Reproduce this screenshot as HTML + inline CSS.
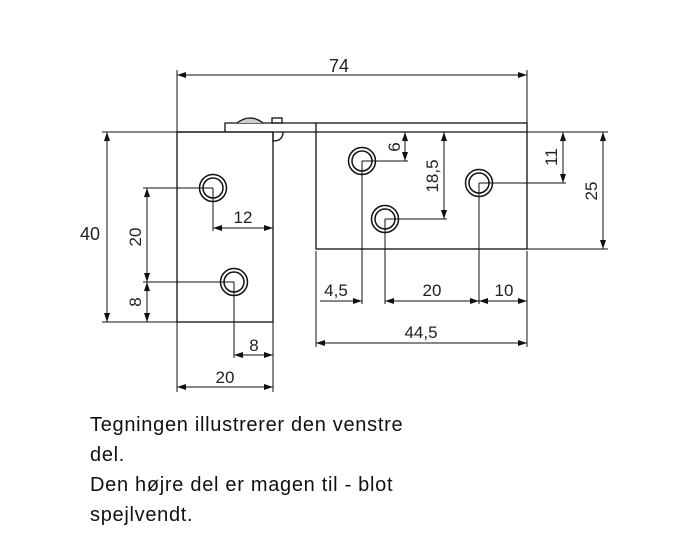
<!DOCTYPE html>
<html><head><style>
body{margin:0;background:#fff;width:686px;height:559px;overflow:hidden;}
svg{position:absolute;left:0;top:0}
.t{font-family:"Liberation Sans",sans-serif;font-size:17px;fill:#222}
.p{position:absolute;left:90px;top:410px;font-family:"Liberation Sans",sans-serif;font-size:20px;letter-spacing:0.7px;line-height:30px;color:#111}
</style></head><body>
<svg width="686" height="559" viewBox="0 0 686 559">
<defs>
<marker id="a" markerWidth="10" markerHeight="8" refX="9" refY="4" orient="auto-start-reverse" markerUnits="userSpaceOnUse"><path d="M0,1 L9,4 L0,7z" fill="#111"/></marker>
</defs>
<g stroke="#111" stroke-width="1.3" fill="none">
<rect x="177" y="132" width="96" height="190"/>
<rect x="316" y="123" width="211" height="126"/>
<path d="M225,132 V123 H316"/>
<line x1="177" y1="132" x2="527" y2="132"/>
<path d="M237,123 Q250,113 263,123" fill="#ccc"/>
<rect x="272" y="118" width="10" height="5"/>
<path d="M273,132 V141 Q283,141 283,132"/>
<g stroke-width="1.5">
<circle cx="213" cy="188" r="13.5"/><circle cx="213" cy="188" r="10"/>
<circle cx="234" cy="282" r="13.5"/><circle cx="234" cy="282" r="10"/>
<circle cx="362" cy="161" r="13.5"/><circle cx="362" cy="161" r="10"/>
<circle cx="385" cy="219" r="13.5"/><circle cx="385" cy="219" r="10"/>
<circle cx="479" cy="183" r="13.5"/><circle cx="479" cy="183" r="10"/>
</g>
</g>
<g stroke="#111" stroke-width="1" fill="none">
<line x1="177" y1="70" x2="177" y2="132"/><line x1="527" y1="70" x2="527" y2="123"/>
<line x1="177" y1="75" x2="527" y2="75" marker-start="url(#a)" marker-end="url(#a)"/>
<line x1="102" y1="132" x2="177" y2="132"/><line x1="102" y1="322" x2="177" y2="322"/>
<line x1="107" y1="132" x2="107" y2="322" marker-start="url(#a)" marker-end="url(#a)"/>
<line x1="143" y1="188" x2="213" y2="188"/><line x1="143" y1="282" x2="234" y2="282"/>
<line x1="147" y1="188" x2="147" y2="282" marker-start="url(#a)" marker-end="url(#a)"/>
<line x1="147" y1="282" x2="147" y2="322" marker-start="url(#a)" marker-end="url(#a)"/>
<line x1="213" y1="188" x2="213" y2="231"/>
<line x1="213" y1="228" x2="273" y2="228" marker-start="url(#a)" marker-end="url(#a)"/>
<line x1="234" y1="282" x2="234" y2="358"/><line x1="273" y1="322" x2="273" y2="392"/>
<line x1="234" y1="355" x2="273" y2="355" marker-start="url(#a)" marker-end="url(#a)"/>
<line x1="177" y1="322" x2="177" y2="392"/>
<line x1="177" y1="387" x2="273" y2="387" marker-start="url(#a)" marker-end="url(#a)"/>
<line x1="362" y1="161" x2="408" y2="161"/>
<line x1="405" y1="132" x2="405" y2="161" marker-start="url(#a)" marker-end="url(#a)"/>
<line x1="385" y1="219" x2="447" y2="219"/>
<line x1="444" y1="132" x2="444" y2="219" marker-start="url(#a)" marker-end="url(#a)"/>
<line x1="527" y1="132" x2="608" y2="132"/>
<line x1="479" y1="183" x2="566" y2="183"/>
<line x1="527" y1="249" x2="608" y2="249"/>
<line x1="563" y1="132" x2="563" y2="183" marker-start="url(#a)" marker-end="url(#a)"/>
<line x1="603" y1="132" x2="603" y2="249" marker-start="url(#a)" marker-end="url(#a)"/>
<line x1="362" y1="161" x2="362" y2="304"/><line x1="385" y1="219" x2="385" y2="304"/>
<line x1="479" y1="183" x2="479" y2="304"/>
<line x1="316" y1="251" x2="316" y2="347"/><line x1="527" y1="251" x2="527" y2="347"/>
<line x1="320" y1="301" x2="362" y2="301" marker-end="url(#a)"/>
<line x1="385" y1="301" x2="479" y2="301" marker-start="url(#a)" marker-end="url(#a)"/>
<line x1="479" y1="301" x2="527" y2="301" marker-start="url(#a)" marker-end="url(#a)"/>
<line x1="316" y1="343" x2="527" y2="343" marker-start="url(#a)" marker-end="url(#a)"/>
</g>
<g class="t">
<text x="339" y="72" text-anchor="middle" style="font-size:18px">74</text>
<text x="90" y="240" text-anchor="middle" style="font-size:18px">40</text>
<text x="243" y="223" text-anchor="middle">12</text>
<text x="254" y="351" text-anchor="middle">8</text>
<text x="225" y="383" text-anchor="middle">20</text>
<text x="336" y="296" text-anchor="middle">4,5</text>
<text x="432" y="296" text-anchor="middle">20</text>
<text x="504" y="296" text-anchor="middle">10</text>
<text x="421" y="338" text-anchor="middle">44,5</text>
<text transform="translate(141,237) rotate(-90)" text-anchor="middle">20</text>
<text transform="translate(141,302) rotate(-90)" text-anchor="middle">8</text>
<text transform="translate(400,147) rotate(-90)" text-anchor="middle">6</text>
<text transform="translate(438,176) rotate(-90)" text-anchor="middle">18,5</text>
<text transform="translate(557,157) rotate(-90)" text-anchor="middle">11</text>
<text transform="translate(597,191) rotate(-90)" text-anchor="middle">25</text>
</g>
</svg>
<div class="p">Tegningen illustrerer den venstre<br>del.<br>Den højre del er magen til - blot<br>spejlvendt.</div>
</body></html>
